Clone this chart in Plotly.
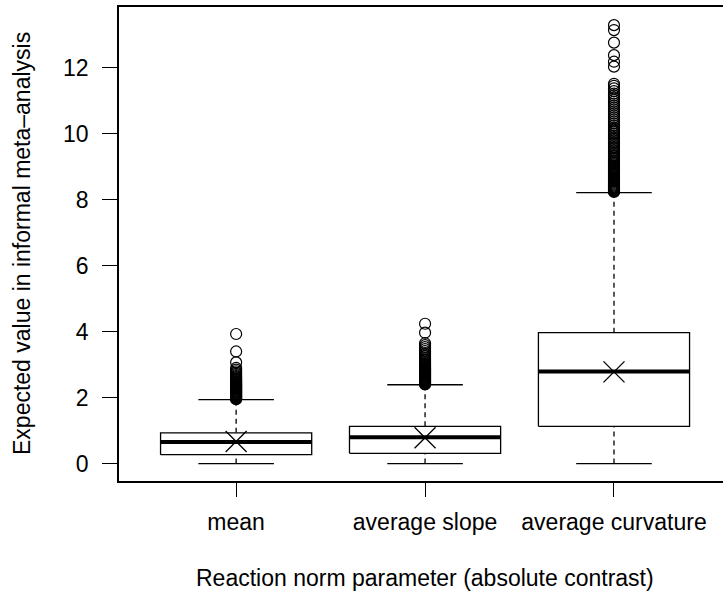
import plotly.graph_objects as go

categories = ["mean", "average slope", "average curvature"]
positions = [1, 2, 3]
q1 = [0.27, 0.31, 1.13]
median = [0.65, 0.80, 2.79]
q3 = [0.93, 1.13, 3.97]
lower = [0.0, 0.0, 0.0]
upper = [1.94, 2.39, 8.22]
means = [0.67, 0.78, 2.78]

out_mean = [1.95, 1.97, 1.99, 2.01, 2.03, 2.05, 2.07, 2.09, 2.11, 2.13, 2.15, 2.17,
            2.19, 2.21, 2.23, 2.25, 2.27, 2.29, 2.31, 2.33, 2.35, 2.37, 2.39, 2.41,
            2.43, 2.45, 2.47, 2.50, 2.53, 2.56, 2.59, 2.62, 2.65, 2.68, 2.72, 2.76,
            2.80, 2.85, 2.90, 3.07, 3.40, 3.93]
out_slope = [2.40, 2.42, 2.44, 2.46, 2.48, 2.50, 2.52, 2.54, 2.56, 2.58, 2.60, 2.62,
             2.64, 2.66, 2.68, 2.70, 2.72, 2.74, 2.76, 2.78, 2.80, 2.82, 2.84, 2.86,
             2.88, 2.90, 2.93, 2.96, 2.99, 3.02, 3.05, 3.08, 3.12, 3.16, 3.20, 3.25,
             3.30, 3.35, 3.41, 3.47, 3.53, 3.59, 3.65, 3.97, 4.24]
out_curv = [8.24, 8.26, 8.28, 8.30, 8.32, 8.34, 8.36, 8.38, 8.40, 8.43, 8.46, 8.49,
            8.52, 8.55, 8.58, 8.61, 8.64, 8.67, 8.70, 8.73, 8.76, 8.79, 8.82, 8.85,
            8.88, 8.91, 8.94, 8.97, 9.00, 9.04, 9.08, 9.12, 9.16, 9.20, 9.24, 9.28,
            9.32, 9.36, 9.40, 9.45, 9.50, 9.55, 9.60, 9.65, 9.70, 9.75, 9.80, 9.85,
            9.90, 9.95, 10.00, 10.05, 10.10, 10.15, 10.20, 10.26, 10.32, 10.38, 10.44,
            10.50, 10.56, 10.62, 10.68, 10.74, 10.80, 10.86, 10.92, 10.98, 11.04, 11.10,
            11.16, 11.22, 11.30, 11.38, 11.46, 11.52, 12.04, 12.19, 12.39, 12.77,
            13.15, 13.30]
outliers = [out_mean, out_slope, out_curv]

y_ticks = [0, 2, 4, 6, 8, 10, 12]

FONT = "Liberation Sans, Arial, Helvetica, sans-serif"
FS = 23
half = 0.4
cap = 0.2

fig = go.Figure()
for i, p in enumerate(positions):
    # whiskers (dashed)
    fig.add_trace(go.Scatter(x=[p, p], y=[q3[i], upper[i]], mode="lines",
                             line=dict(color="black", width=1.3, dash="5px,4px"),
                             showlegend=False, hoverinfo="skip"))
    fig.add_trace(go.Scatter(x=[p, p], y=[lower[i], q1[i]], mode="lines",
                             line=dict(color="black", width=1.3, dash="5px,4px"),
                             showlegend=False, hoverinfo="skip"))
    # staples
    for v in (upper[i], lower[i]):
        fig.add_trace(go.Scatter(x=[p - cap, p + cap], y=[v, v], mode="lines",
                                 line=dict(color="black", width=1.3),
                                 showlegend=False, hoverinfo="skip"))
    # box
    fig.add_trace(go.Scatter(x=[p - half, p + half, p + half, p - half, p - half],
                             y=[q1[i], q1[i], q3[i], q3[i], q1[i]], mode="lines",
                             line=dict(color="black", width=1.3),
                             fill="toself", fillcolor="white",
                             showlegend=False, hoverinfo="skip"))
    # median
    fig.add_trace(go.Scatter(x=[p - half, p + half], y=[median[i], median[i]], mode="lines",
                             line=dict(color="black", width=4),
                             showlegend=False, hoverinfo="skip"))
    # outliers
    fig.add_trace(go.Scatter(x=[p] * len(outliers[i]), y=outliers[i], mode="markers",
                             marker=dict(symbol="circle-open", size=11, color="black",
                                         line=dict(width=1.2, color="black")),
                             showlegend=False, hoverinfo="skip"))

# means
fig.add_trace(go.Scatter(x=positions, y=means, mode="markers",
                         marker=dict(symbol="x-thin-open", size=21, color="black",
                                     line=dict(width=1.3, color="black")),
                         showlegend=False, hoverinfo="skip"))

fig.update_layout(
    width=723, height=594,
    margin=dict(l=119, r=0, t=7, b=113),
    paper_bgcolor="white", plot_bgcolor="white",
    font=dict(family=FONT, size=FS, color="black"),
    xaxis=dict(range=[0.38, 3.577], tickmode="array", tickvals=positions,
               ticktext=categories, ticks="outside", ticklen=14, tickwidth=1,
               tickcolor="black", showgrid=False, zeroline=False,
               showline=True, linecolor="black", linewidth=1.5, mirror=True,
               ticklabelstandoff=6),
    yaxis=dict(range=[-0.53, 13.85], tickmode="array", tickvals=y_ticks,
               ticks="outside", ticklen=15, tickwidth=1, tickcolor="black",
               showgrid=False, zeroline=False, showline=True, linecolor="black",
               linewidth=1.5, mirror=False, ticklabelstandoff=9),
    annotations=[
        dict(text="Reaction norm parameter (absolute contrast)", xref="paper", yref="paper",
             x=(425 - 119) / 604, y=0, yshift=-97, xanchor="center", yanchor="middle",
             showarrow=False, font=dict(family=FONT, size=FS)),
        dict(text="Expected value in informal meta\u2013analysis", xref="paper", yref="paper",
             x=0, y=0.5, xshift=-97, xanchor="center", yanchor="middle", textangle=-90,
             showarrow=False, font=dict(family=FONT, size=FS)),
    ],
)

fig.write_html("out.html")
